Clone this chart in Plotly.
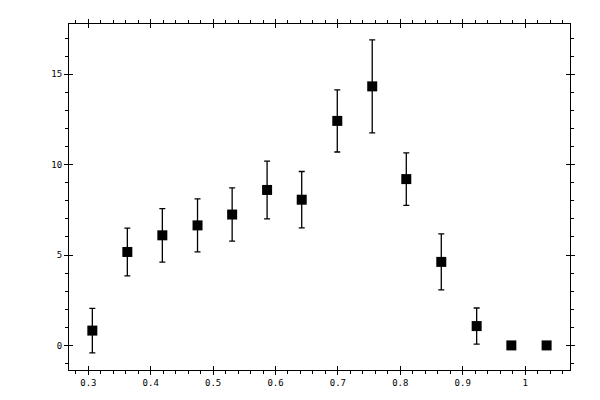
import plotly.graph_objects as go

x_vals = [0.3064, 0.3625, 0.4186, 0.4750, 0.5305, 0.5865, 0.6420, 0.6990, 0.7550, 0.8096, 0.8657, 0.9224, 0.9780, 1.0345]
y_vals = [0.82, 5.17, 6.09, 6.64, 7.24, 8.60, 8.06, 12.42, 14.33, 9.20, 4.62, 1.07, 0.0, 0.0]
y_err = [1.23, 1.32, 1.48, 1.47, 1.47, 1.60, 1.56, 1.72, 2.57, 1.45, 1.55, 1.00, 0.0, 0.0]

x_range = [0.269, 1.072]
y_range = [-1.36, 17.78]
x_ticks = [0.3, 0.4, 0.5, 0.6, 0.7, 0.8, 0.9, 1.0]
x_ticklabels = ["0.3", "0.4", "0.5", "0.6", "0.7", "0.8", "0.9", "1"]
y_ticks = [0, 5, 10, 15]
y_ticklabels = ["0", "5", "10", "15"]

font = dict(family="DejaVu Sans Mono", size=9, color="black")

fig = go.Figure()
fig.add_trace(go.Scatter(
    x=x_vals, y=y_vals, mode="markers",
    marker=dict(symbol="square", size=10, color="black"),
    error_y=dict(type="data", array=y_err, visible=True, color="black", thickness=1.3, width=3),
    showlegend=False,
))
# invisible trace on overlay axes to carry crossing major ticks
fig.add_trace(go.Scatter(x=[x_vals[0]], y=[y_vals[0]], xaxis="x2", yaxis="y2",
                         mode="markers", marker=dict(opacity=0), showlegend=False, hoverinfo="skip"))

common = dict(showgrid=False, zeroline=False, showline=True, linecolor="black", linewidth=1,
              mirror="ticks", ticks="outside", ticklen=4, tickwidth=1, tickcolor="black")

fig.update_layout(
    width=600, height=400,
    margin=dict(l=61, r=38, t=11, b=38),
    paper_bgcolor="white", plot_bgcolor="white",
    font=font,
    xaxis=dict(range=x_range, tickvals=x_ticks, ticktext=x_ticklabels, tickfont=font,
               minor=dict(dtick=0.02, tick0=0.3, ticks="outside", ticklen=3, tickcolor="black", tickwidth=1),
               **common),
    yaxis=dict(range=y_range, tickvals=y_ticks, ticktext=y_ticklabels, tickfont=font,
               minor=dict(dtick=1, tick0=0, ticks="outside", ticklen=3, tickcolor="black", tickwidth=1),
               **common),
    xaxis2=dict(range=x_range, overlaying="x", side="bottom", tickvals=x_ticks, showticklabels=False,
                showgrid=False, zeroline=False, showline=False, mirror="ticks",
                ticks="inside", ticklen=4, tickwidth=1, tickcolor="black"),
    yaxis2=dict(range=y_range, overlaying="y", side="left", tickvals=y_ticks, showticklabels=False,
                showgrid=False, zeroline=False, showline=False, mirror="ticks",
                ticks="inside", ticklen=4, tickwidth=1, tickcolor="black"),
)

fig.write_html("out.html")
